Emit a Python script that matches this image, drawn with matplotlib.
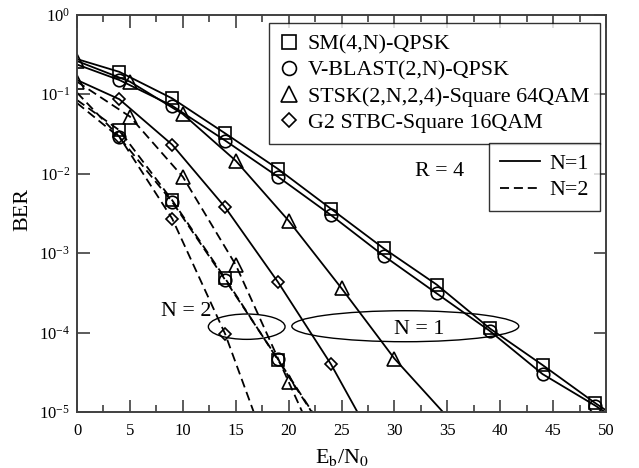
import matplotlib
matplotlib.use("Agg")
import matplotlib.pyplot as plt
from matplotlib.lines import Line2D
from matplotlib.patches import Ellipse
from matplotlib.ticker import MultipleLocator, LogLocator, NullLocator

plt.rcParams['font.family'] = ['Liberation Serif', 'DejaVu Serif']
plt.rcParams['mathtext.fontset'] = 'stix'
plt.rcParams['lines.scale_dashes'] = False

# ---- data (Eb/N0 in dB, BER) ----
sm1_x = [0, 4, 9, 14, 19, 24, 29, 34, 39, 44, 49, 50]
sm1_y = [0.275, 0.19, 0.088, 0.032, 0.0114, 0.0036, 0.00114, 4.0e-4, 1.13e-4, 3.9e-5, 1.29e-5, 1.05e-5]
vb1_x = [0, 4, 9, 14, 19, 24, 29, 34, 39, 44, 49, 50]
vb1_y = [0.235, 0.15, 0.071, 0.026, 0.0091, 0.0030, 9.2e-4, 3.1e-4, 1.05e-4, 3.0e-5, 1.2e-5, 9.8e-6]
st1_x = [0, 5, 10, 15, 20, 25, 30, 35]
st1_y = [0.26, 0.143, 0.056, 0.0145, 0.00255, 3.6e-4, 4.7e-5, 8.7e-6]
g21_x = [0, 4, 9, 14, 19, 24, 27]
g21_y = [0.15, 0.086, 0.023, 0.00376, 4.3e-4, 4.0e-5, 7.6e-6]

sm2_x = [0, 4, 9, 14, 19, 23]
sm2_y = [0.084, 0.035, 0.0046, 4.8e-4, 4.5e-5, 6.8e-6]
vb2_x = [0, 4, 9, 14, 19, 23]
vb2_y = [0.077, 0.0285, 0.0044, 4.6e-4, 4.6e-5, 7.0e-6]
st2_x = [0, 5, 10, 15, 20, 22]
st2_y = [0.143, 0.052, 0.0091, 7.1e-4, 2.4e-5, 6.2e-6]
g22_x = [0, 4, 9, 14, 17]
g22_y = [0.104, 0.029, 0.0027, 9.6e-5, 7.8e-6]

legend_labels = ['SM(4,N)-QPSK', 'V-BLAST(2,N)-QPSK',
                 'STSK(2,N,2,4)-Square 64QAM', 'G2 STBC-Square 16QAM']
n_labels = ['N=1', 'N=2']

fig = plt.figure(figsize=(6.39, 4.68), dpi=100)
ax = fig.add_axes([77/639, 1-412/468, 529/639, 397.5/468])

lw = 1.3
dash = (0, (6.5, 3.5))
mk = dict(markerfacecolor='none', markeredgecolor='black', markeredgewidth=1.2)

def series(x, y, marker, ms, ls, mev):
    ax.plot(x, y, color='black', lw=lw, linestyle=ls, marker=marker, ms=ms,
            markevery=mev, **mk)

series(sm1_x, sm1_y, 's', 9, '-', list(range(1, 11)))
series(vb1_x, vb1_y, 'o', 9, '-', list(range(1, 11)))
series(st1_x, st1_y, '^', 10, '-', list(range(0, 7)))
series(g21_x, g21_y, 'D', 6.5, '-', list(range(1, 6)))
series(sm2_x, sm2_y, 's', 9, dash, list(range(1, 5)))
series(vb2_x, vb2_y, 'o', 9, dash, list(range(1, 5)))
series(st2_x, st2_y, '^', 10, dash, list(range(0, 5)))
series(g22_x, g22_y, 'D', 6.5, dash, list(range(1, 4)))

ax.set_yscale('log')
ax.set_xlim(0, 50)
ax.set_ylim(1e-5, 1)
ax.xaxis.set_major_locator(MultipleLocator(5))
ax.xaxis.set_minor_locator(MultipleLocator(2.5))
ax.yaxis.set_major_locator(LogLocator(base=10, numticks=10))
ax.yaxis.set_minor_locator(NullLocator())

axcol = '#404040'
for s in ax.spines.values():
    s.set_color(axcol)
    s.set_linewidth(1.4)
ax.tick_params(which='both', direction='in', top=True, right=True, color=axcol,
               labelsize=12, width=1.2)
ax.tick_params(which='major', length=9)
ax.tick_params(which='minor', length=5)
ax.tick_params(axis='x', pad=8)
ax.tick_params(axis='y', pad=5)

fs = 15.8

# Legends
h1 = [Line2D([], [], linestyle='none', marker=m, ms=s, color='black', **mk)
      for m, s in zip(['s', 'o', '^', 'D'], [10, 10, 11, 7.5])]
leg1 = ax.legend(h1, legend_labels, loc='upper right', bbox_to_anchor=(0.9887, 0.979),
                 borderaxespad=0, fontsize=fs, frameon=True, fancybox=False,
                 handlelength=0.86, handletextpad=0.4, labelspacing=0.27,
                 borderpad=0.5)
leg1.get_frame().set_edgecolor('black')
leg1.get_frame().set_linewidth(1.0)
ax.add_artist(leg1)

h2 = [Line2D([], [], color='black', lw=lw, linestyle='-'),
      Line2D([], [], color='black', lw=lw, linestyle=dash)]
leg2 = ax.legend(h2, n_labels, loc='upper right', bbox_to_anchor=(0.9887, 0.6775),
                 borderaxespad=0, fontsize=fs, frameon=True, fancybox=False,
                 handlelength=1.8, handletextpad=0.45, labelspacing=0.27,
                 borderpad=0.5)
leg2.get_frame().set_edgecolor('black')
leg2.get_frame().set_linewidth(1.0)

# Annotations
ax.add_patch(Ellipse((0.3208, 0.2146), 0.145, 0.0637, transform=ax.transAxes,
                     fill=False, edgecolor='black', lw=1.0))
ax.add_patch(Ellipse((0.6206, 0.2158), 0.429, 0.078, transform=ax.transAxes,
                     fill=False, edgecolor='black', lw=1.0))
ax.text(0.2074, 0.2523, 'N = 2', transform=ax.transAxes, ha='center', va='center', fontsize=fs)
ax.text(0.6465, 0.2088, 'N = 1', transform=ax.transAxes, ha='center', va='center', fontsize=fs)
ax.text(0.686, 0.6045, 'R = 4', transform=ax.transAxes, ha='center', va='center', fontsize=fs)

fig.text(23/639, 1-210/468, 'BER', rotation=90, ha='center', va='center', fontsize=fs)
fig.text(341.7/639, 0.011, r'E$_{\mathrm{b}}$/N$_{0}$', ha='center', va='baseline', fontsize=fs)

fig.savefig('out.png', dpi=100)
